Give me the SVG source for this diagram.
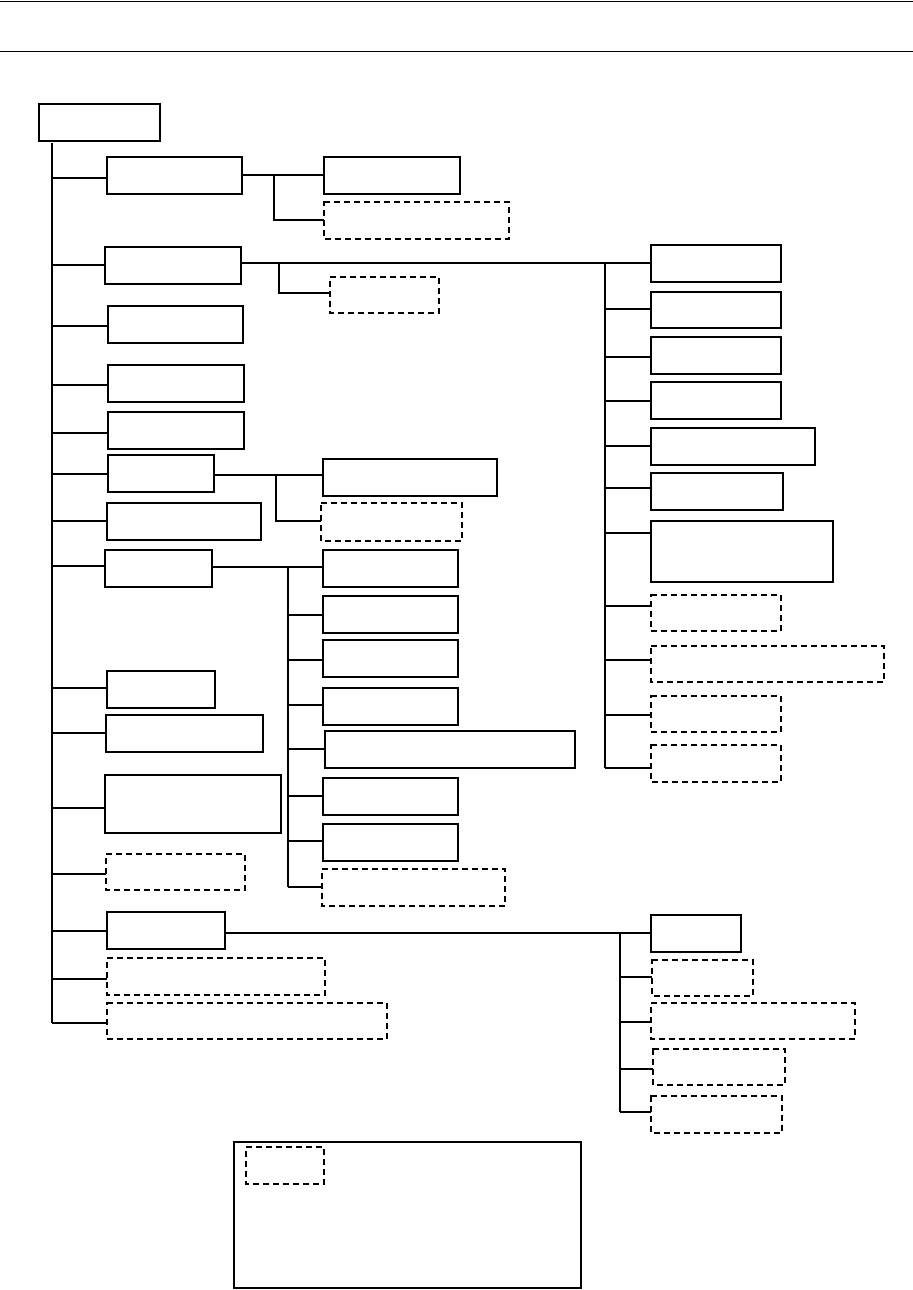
<svg xmlns="http://www.w3.org/2000/svg" width="913" height="1290" viewBox="0 0 913 1290">
<style>
.b{fill:#fff;stroke:#000;stroke-width:2}
.d{fill:#fff;stroke:#000;stroke-width:2;stroke-dasharray:6 4}
.c{fill:none;stroke:#000;stroke-width:2}
.h{stroke:#000;stroke-width:1}
</style>
<rect width="913" height="1290" fill="#fff"/>
<g id="header">
<line class="h" x1="0" y1="1.5" x2="913" y2="1.5"/>
<line class="h" x1="0" y1="51.5" x2="913" y2="51.5"/>
</g>
<g id="connectors">
<path class="c" d="M52 143V1023"/>
<path class="c" d="M52 178H107M52 265H105M52 326H108M52 385H108M52 433H108M52 474H108M52 521H107M52 566H105M52 688H107M52 733H106M52 808H105M52 874H106M52 931H107M52 979H107M52 1023H107"/>
<path class="c" d="M242 175H324M274 175V220H324"/>
<path class="c" d="M241 263H651M279 263V293H330"/>
<path class="c" d="M605 263V768M605 309H651M605 357H651M605 401H651M605 446H651M605 488H651M605 533H651M605 606H651M605 660H651M605 715H651M605 768H651"/>
<path class="c" d="M214 475H323M276 475V521H321"/>
<path class="c" d="M212 567H323M288 567V887M288 615H323M288 660H323M288 705H323M288 749H325M288 796H323M288 841H323M288 887H322"/>
<path class="c" d="M225 933H651M620 933V1112M620 977H652M620 1022H651M620 1069H653M620 1112H651"/>
</g>
<g id="root"><rect class="b" x="39" y="104" width="121" height="37"/></g>
<g id="n1"><rect class="b" x="107" y="157" width="135" height="37"/></g>
<g id="n1a"><rect class="b" x="324" y="157" width="136" height="37"/></g>
<g id="n1b"><rect class="d" x="324" y="202" width="185" height="37"/></g>
<g id="n2"><rect class="b" x="105" y="247" width="136" height="37"/></g>
<g id="n2a"><rect class="d" x="330" y="277" width="109" height="36"/></g>
<g id="r1"><rect class="b" x="651" y="245" width="130" height="37"/></g>
<g id="r2"><rect class="b" x="651" y="292" width="130" height="36"/></g>
<g id="r3"><rect class="b" x="651" y="337" width="130" height="37"/></g>
<g id="r4"><rect class="b" x="651" y="382" width="130" height="37"/></g>
<g id="r5"><rect class="b" x="651" y="428" width="164" height="37"/></g>
<g id="r6"><rect class="b" x="651" y="473" width="132" height="37"/></g>
<g id="r7"><rect class="b" x="651" y="521" width="182" height="61"/></g>
<g id="r8"><rect class="d" x="651" y="595" width="130" height="36"/></g>
<g id="r9"><rect class="d" x="651" y="646" width="233" height="36"/></g>
<g id="r10"><rect class="d" x="651" y="696" width="130" height="36"/></g>
<g id="r11"><rect class="d" x="651" y="745" width="130" height="37"/></g>
<g id="n3"><rect class="b" x="108" y="306" width="135" height="37"/></g>
<g id="n4"><rect class="b" x="108" y="365" width="136" height="37"/></g>
<g id="n5"><rect class="b" x="108" y="412" width="136" height="37"/></g>
<g id="n6"><rect class="b" x="108" y="455" width="106" height="37"/></g>
<g id="n6a"><rect class="b" x="323" y="459" width="174" height="37"/></g>
<g id="n6b"><rect class="d" x="321" y="503" width="141" height="38"/></g>
<g id="n7"><rect class="b" x="107" y="503" width="154" height="37"/></g>
<g id="n8"><rect class="b" x="105" y="550" width="107" height="37"/></g>
<g id="d1"><rect class="b" x="323" y="550" width="135" height="37"/></g>
<g id="d2"><rect class="b" x="323" y="596" width="135" height="37"/></g>
<g id="d3"><rect class="b" x="323" y="640" width="135" height="37"/></g>
<g id="d4"><rect class="b" x="323" y="688" width="135" height="37"/></g>
<g id="d5"><rect class="b" x="325" y="731" width="250" height="37"/></g>
<g id="d6"><rect class="b" x="323" y="778" width="135" height="37"/></g>
<g id="d7"><rect class="b" x="323" y="824" width="135" height="37"/></g>
<g id="d8"><rect class="d" x="322" y="869" width="183" height="37"/></g>
<g id="n9"><rect class="b" x="107" y="671" width="108" height="37"/></g>
<g id="n10"><rect class="b" x="106" y="715" width="157" height="37"/></g>
<g id="n11"><rect class="b" x="105" y="775" width="176" height="58"/></g>
<g id="n12"><rect class="d" x="106" y="854" width="139" height="36"/></g>
<g id="n13"><rect class="b" x="107" y="912" width="118" height="37"/></g>
<g id="e1"><rect class="b" x="651" y="915" width="90" height="37"/></g>
<g id="e2"><rect class="d" x="652" y="960" width="101" height="36"/></g>
<g id="e3"><rect class="d" x="651" y="1003" width="204" height="36"/></g>
<g id="e4"><rect class="d" x="653" y="1049" width="132" height="36"/></g>
<g id="e5"><rect class="d" x="651" y="1096" width="131" height="37"/></g>
<g id="n14"><rect class="d" x="107" y="958" width="218" height="37"/></g>
<g id="n15"><rect class="d" x="107" y="1003" width="280" height="36"/></g>
<g id="legend">
<rect class="b" x="234" y="1142" width="347" height="146"/>
<rect class="d" x="246" y="1147" width="78" height="37"/>
</g>
</svg>
